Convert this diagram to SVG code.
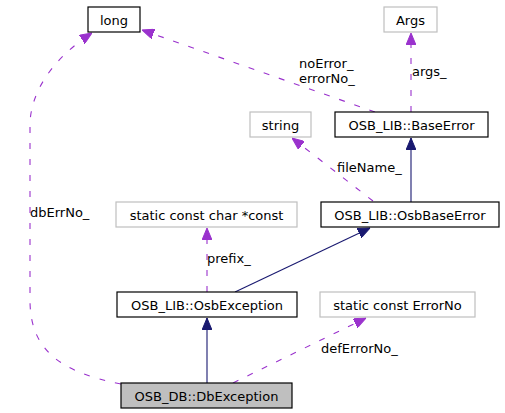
<svg xmlns="http://www.w3.org/2000/svg" width="505" height="413" viewBox="0 0 505 413">
<style>
text{font-family:"DejaVu Sans","Liberation Sans",sans-serif;font-size:13px;fill:#000}
.n{text-anchor:middle}
.b{fill:#fff;stroke:#000;stroke-width:1.2}
.g{fill:#fff;stroke:#bfbfbf;stroke-width:1.2}
.cur{fill:#bfbfbf;stroke:#000;stroke-width:1.2}
.inh{fill:none;stroke:#191970;stroke-width:1.1}
.use{fill:none;stroke:#9a32cd;stroke-width:1.1;stroke-dasharray:6,10}
</style>
<defs>
<marker id="ah" viewBox="0 0 12 10" refX="12" refY="5" markerWidth="12" markerHeight="10" markerUnits="userSpaceOnUse" orient="auto">
<path d="M0,0 L12,5 L0,10 z" fill="#191970" stroke="#191970" stroke-width="1"/>
</marker>
<marker id="ap" viewBox="0 0 12 10" refX="12" refY="5" markerWidth="12" markerHeight="10" markerUnits="userSpaceOnUse" orient="auto">
<path d="M0,0 L12,5 L0,10 z" fill="#9a32cd" stroke="#9a32cd" stroke-width="1"/>
</marker>
</defs>
<g id="connectors">
<path class="inh" d="M207,383 L207,318" marker-end="url(#ah)"/>
<path class="inh" d="M235,292 L370,228" marker-end="url(#ah)"/>
<path class="inh" d="M411,202 L411,138" marker-end="url(#ah)"/>
<path class="use" d="M411,112 L411,33" marker-end="url(#ap)"/>
<path class="use" d="M375,112 L142,30" marker-end="url(#ap)"/>
<path class="use" d="M373,201 L292,138" marker-end="url(#ap)"/>
<path class="use" d="M207,292 L207,228" marker-end="url(#ap)"/>
<path class="use" d="M233,383 L366,318" marker-end="url(#ap)"/>
<path class="use" d="M121,384 C60,372 30,350 30,300 L30,125 C30,95 50,60 92,33" marker-end="url(#ap)"/>
<text x="299" y="68">noError_</text>
<text x="299" y="83">errorNo_</text>
<text x="412" y="76">args_</text>
<text x="337" y="172">fileName_</text>
<text x="207" y="263">prefix_</text>
<text x="30" y="217">dbErrNo_</text>
<text x="321" y="353">defErrorNo_</text>
</g>
<g id="long"><rect class="b" x="88" y="7" width="52" height="25"/><text class="n" x="114" y="24.5">long</text></g>
<g id="args"><rect class="g" x="384" y="7" width="53" height="25"/><text class="n" x="410.5" y="24.5">Args</text></g>
<g id="string"><rect class="g" x="250" y="112" width="61" height="25"/><text class="n" x="280.5" y="129.5">string</text></g>
<g id="baseerror"><rect class="b" x="335" y="112" width="153" height="25"/><text class="n" x="411.5" y="129.5">OSB_LIB::BaseError</text></g>
<g id="osbbaseerror"><rect class="b" x="321" y="202" width="178" height="25"/><text class="n" x="410" y="219.5">OSB_LIB::OsbBaseError</text></g>
<g id="charconst"><rect class="g" x="116" y="202" width="181" height="25"/><text class="n" x="206.5" y="219.5">static const char *const</text></g>
<g id="osbexception"><rect class="b" x="117" y="292" width="180" height="25"/><text class="n" x="207" y="309.5">OSB_LIB::OsbException</text></g>
<g id="errorno"><rect class="g" x="320" y="292" width="155" height="25"/><text class="n" x="397.5" y="309.5">static const ErrorNo</text></g>
<g id="dbexception"><rect class="cur" x="121" y="383" width="171" height="25"/><text class="n" x="206.5" y="400.5">OSB_DB::DbException</text></g>
</svg>
